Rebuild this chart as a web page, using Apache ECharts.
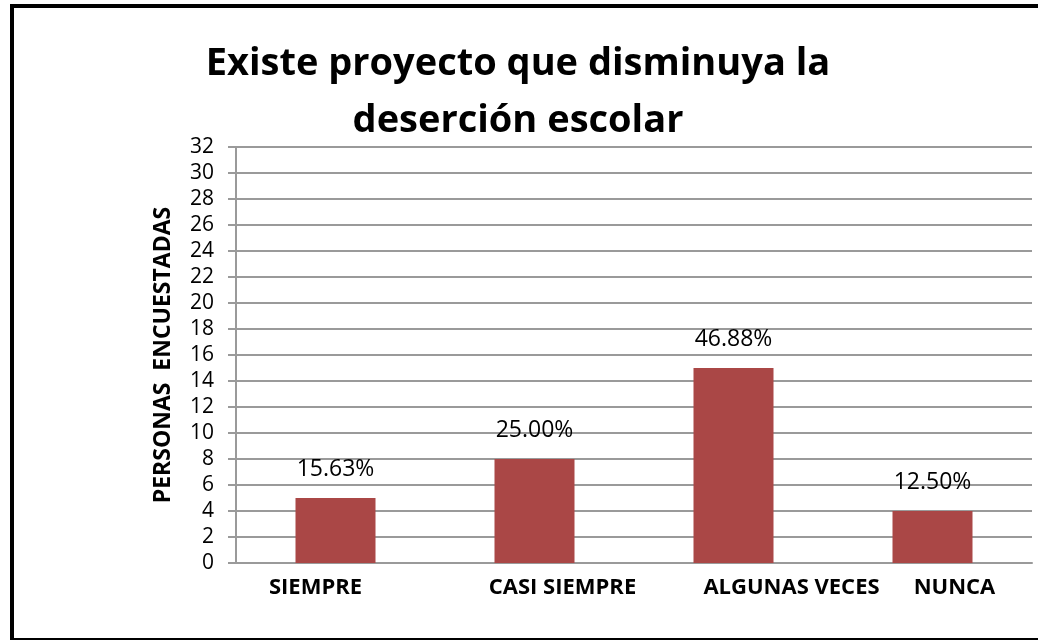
<!DOCTYPE html>
<html>
<head>
<meta charset="utf-8">
<script src="https://cdn.jsdelivr.net/npm/echarts@6/dist/echarts.min.js"></script>
<style>
html,body{margin:0;padding:0;background:#fff;}
#frame{position:absolute;left:10px;top:4px;width:1040px;height:630px;border:4px solid #000;border-right:none;box-sizing:content-box;}
#chart{position:absolute;left:0;top:0;width:1038px;height:640px;}
</style>
</head>
<body>
<div id="frame"></div>
<div id="chart"></div>
<script>
const categories = ['SIEMPRE', 'CASI SIEMPRE', 'ALGUNAS VECES', 'NUNCA'];
const counts = [5, 8, 15, 4];
const percentLabels = ['15.63%', '25.00%', '46.88%', '12.50%'];
const yTicks = [0, 2, 4, 6, 8, 10, 12, 14, 16, 18, 20, 22, 24, 26, 28, 30, 32];

const labelShift = [-20, 28, 58, 22];
const rich = {};
categories.forEach((c, i) => {
  const s = labelShift[i];
  rich['c' + i] = {
    fontFamily: 'Open Sans, sans-serif',
    fontWeight: 'bold',
    fontSize: 22,
    color: '#000',
    padding: s >= 0 ? [0, 0, 0, 2 * s] : [0, -2 * s, 0, 0]
  };
});

const chart = echarts.init(document.getElementById('chart'), null, {renderer: 'canvas'});
chart.setOption({
  backgroundColor: 'transparent',
  animation: false,
  title: {
    text: 'Existe proyecto que disminuya la\ndeserción escolar',
    left: 513,
    top: 31,
    textAlign: 'center',
    textStyle: {
      fontFamily: 'Open Sans, sans-serif',
      fontWeight: 'bold',
      fontSize: 38,
      lineHeight: 57,
      color: '#000'
    }
  },
  grid: {left: 236, right: 6, top: 147, bottom: 77},
  xAxis: {
    type: 'category',
    data: categories,
    axisLine: {show: true, lineStyle: {color: '#9a9a9a', width: 2}},
    axisTick: {show: false},
    axisLabel: {
      margin: 14,
      interval: 0,
      formatter: function (v, i) { return '{c' + i + '|' + v + '}'; },
      rich: rich
    }
  },
  yAxis: {
    type: 'value',
    min: 0,
    max: 32,
    interval: 2,
    name: 'PERSONAS  ENCUESTADAS',
    nameLocation: 'middle',
    nameGap: 61,
    nameTextStyle: {fontFamily: 'Open Sans, sans-serif', fontWeight: 'bold', fontSize: 23, color: '#000'},
    axisLine: {show: true, lineStyle: {color: '#9a9a9a', width: 2}},
    axisTick: {show: true, length: 8, lineStyle: {color: '#9a9a9a', width: 2}},
    axisLabel: {
      margin: 22,
      fontFamily: 'Open Sans, sans-serif',
      fontSize: 21,
      color: '#000',
      formatter: function (v) { return yTicks.indexOf(v) >= 0 ? String(v) : ''; }
    },
    splitLine: {show: true, lineStyle: {color: '#9a9a9a', width: 2}}
  },
  series: [{
    type: 'bar',
    data: counts,
    barWidth: 80,
    itemStyle: {color: '#AA4746'},
    label: {
      show: true,
      position: 'top',
      distance: 17,
      fontFamily: 'Open Sans, sans-serif',
      fontSize: 23,
      color: '#000',
      formatter: function (p) { return percentLabels[p.dataIndex]; }
    }
  }]
});
</script>
</body>
</html>
